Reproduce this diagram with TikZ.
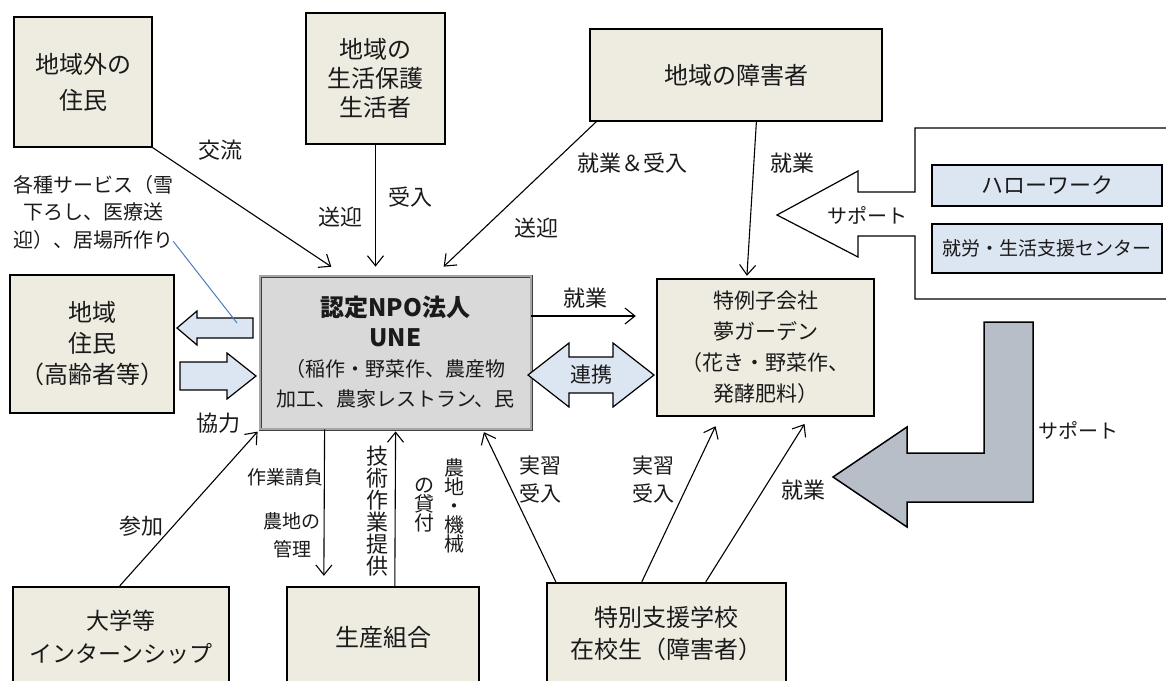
\documentclass[tikz,border=0pt]{standalone}
\usepackage{fontspec}
\setmainfont{Noto Sans CJK JP}
\usetikzlibrary{arrows.meta,calc}
\definecolor{beige}{HTML}{EEECE1}
\definecolor{unegray}{HTML}{D9D9D9}
\definecolor{lblue}{HTML}{DCE6F2}
\definecolor{sgray}{HTML}{B8BEC8}
\definecolor{bline}{HTML}{4A7EBB}
\definecolor{ink}{HTML}{1A1A1A}
\newcommand\myfs[2]{\fontsize{#1}{#2}\selectfont}
\begin{document}
\begin{tikzpicture}[x=1pt,y=-1pt,
  ebox/.style={draw=black, fill=beige, line width=1.2pt, inner sep=0pt, align=center, text=ink},
  tbox/.style={ebox, line width=2.4pt},
  bbox/.style={draw=black, fill=lblue, line width=2.4pt, inner sep=0pt, align=center, text=ink},
  lbl/.style={inner sep=0pt, align=center, text=ink, font=\myfs{22}{28}},
  slbl/.style={lbl, font=\myfs{19}{28}},
  vlbl/.style={inner sep=0pt, align=center, text=ink},
  arr/.style={draw=black, line width=1.1pt, -{Straight Barb[length=10pt,width=16pt,line width=1.1pt]}},
  blockarr/.style={draw=black, fill=lblue, line width=1.2pt, line join=miter},
]
\useasboundingbox (0,0) rectangle (1166,680);
\fill[white] (0,0) rectangle (1166,680);
\clip (0,0) rectangle (1166,680);

% support arrow (white) behind the agency boxes
\draw[line width=1.2pt, fill=white, line join=miter]
  (777,215) -- (858,171) -- (858,192) -- (915,192) -- (915,128) -- (1180,128)
  -- (1180,299) -- (915,299) -- (915,236) -- (858,236) -- (858,257) -- cycle;
\node[lbl, font=\myfs{20}{24}] (sup1) at (867,215) {サポート};

% grey L-shaped support arrow
\draw[line width=1.5pt, fill=sgray, line join=miter]
  (984,322) -- (1033,322) -- (1033,502) -- (907,502) -- (907,527) -- (833,477)
  -- (907,427) -- (907,453) -- (984,453) -- cycle;
\node[lbl, font=\myfs{20}{24}] (sup2) at (1078,430) {サポート};

% boxes
\node[ebox, minimum width=138pt, minimum height=130pt, font=\myfs{24}{36}] (gaiju) at (83,82) {地域外の\\住民};
\node[ebox, minimum width=139pt, minimum height=131pt, font=\myfs{24}{29}] (seikatsu) at (375.5,78.5) {地域の\\生活保護\\生活者};
\node[ebox, minimum width=292pt, minimum height=92pt, font=\myfs{24}{30}] (shogai) at (736,75) {地域の障害者};
\node[ebox, line width=1.5pt, minimum width=164pt, minimum height=138pt, font=\myfs{24}{31}] (chiiki) at (92,344) {地域\\住民\\（高齢者等）};
\node[draw=black!75, double=black!35, double distance=1.4pt, line width=0.8pt, fill=unegray,
      inner sep=0pt, align=center, text=ink, minimum width=271pt, minimum height=153pt,
      font=\myfs{20}{30}] (une) at (395.5,352.5)
  {{\myfs{24}{30}\bfseries 認定NPO法人}\\{\myfs{24}{30}\bfseries UNE}\\（稲作・野菜作、農産物\\加工、農家レストラン、民};
\node[tbox, minimum width=217pt, minimum height=137pt, font=\myfs{21}{31}] (tokurei) at (765.5,347.5) {特例子会社\\夢ガーデン\\（花き・野菜作、\\発酵肥料）};
\node[bbox, minimum width=230pt, minimum height=41pt, font=\myfs{22}{26}] (hw) at (1047,185.5) {ハローワーク};
\node[bbox, minimum width=230pt, minimum height=49pt, font=\myfs{19}{24}] (shuro) at (1047,248.5) {就労・生活支援センター};
\node[tbox, minimum width=216pt, minimum height=100pt, font=\myfs{23}{33}] (daigaku) at (121,637) {大学等\\インターンシップ};
\node[tbox, minimum width=192pt, minimum height=100pt, font=\myfs{24}{33}] (seisan) at (383,637) {生産組合};
\node[tbox, minimum width=239pt, minimum height=102pt, font=\myfs{24}{32}] (tokubetsu) at (666.5,634) {特別支援学校\\在校生（障害者）};

% block arrows between 地域住民 and UNE
\draw[blockarr] (253,318) -- (197,318) -- (197,311) -- (177,328) -- (197,345) -- (197,338) -- (253,338) -- cycle;
\draw[blockarr] (180,362) -- (227,362) -- (227,353) -- (256,376) -- (227,399) -- (227,390) -- (180,390) -- cycle;
\coordinate (blueend) at (237,323);

% 連携 double arrow
\draw[blockarr] (528,375) -- (569,343) -- (569,357) -- (613,357) -- (613,343) -- (654,375)
  -- (613,407) -- (613,393) -- (569,393) -- (569,407) -- cycle;
\node[lbl, font=\myfs{21}{24}] (renkei) at (591,375) {連携};

% services text + blue leader
\node[lbl, font=\myfs{20}{27.5}] (kakushu) at (93,212) {各種サービス（雪\\下ろし、医療送\\迎）、居場所作り};
\draw[bline, line width=1pt] ([yshift=8pt]kakushu.south east) -- (blueend);

% connectors from the top
\draw[arr, shorten >=16pt] (gaiju.south east) -- ([xshift=85pt]une.north west);
\draw[arr, shorten >=9pt] (seikatsu.south) -- (seikatsu.south |- une.north);
\draw[arr, shorten >=13pt] ([xshift=7pt]shogai.south west) -- ([xshift=174.6pt]une.north west);
\draw[arr, shorten >=2pt] ([xshift=167pt]shogai.south west) -- ([xshift=91pt]tokurei.north west);
\draw[arr, shorten >=20pt] ([yshift=36.5pt]une.east) -- ([yshift=36.5pt]une.east -| tokurei.west);

% connectors below
\draw[arr, shorten >=10pt] ([xshift=65pt]une.south west) -- ([xshift=38pt]seisan.north west);
\draw[arr, shorten >=2pt] ([xshift=109pt]seisan.north west) -- ([xshift=136pt]une.south west);
\draw[arr, shorten >=3pt] ([xshift=108pt]daigaku.north west) -- (une.south west);
\draw[arr, shorten >=3pt] ([xshift=10pt]tokubetsu.north west) -- ([xshift=223pt]une.south west);
\draw[arr, shorten >=10pt] ([xshift=96pt]tokubetsu.north west) -- ([xshift=64pt]tokurei.south west);
\draw[arr, shorten >=8pt] ([xshift=160pt]tokubetsu.north west) -- ([xshift=153pt]tokurei.south west);

% labels
\node[lbl] (l1) at (220,150) {交流};
\node[lbl] (l2) at (410,197) {受入};
\node[lbl] (l3) at (340,217) {送迎};
\node[lbl] (l4) at (632,163) {就業＆受入};
\node[lbl] (l5) at (536,228) {送迎};
\node[lbl] (l6) at (792,163) {就業};
\node[lbl] (l7) at (585,298) {就業};
\node[lbl] (l8) at (218,423) {協力};
\node[lbl] (l9) at (141,526) {参加};
\node[slbl] (l10) at (285,477) {作業請負};
\node[slbl] (l11) at (292,535) {農地の\\管理};
\node[vlbl, font=\myfs{22}{22}] (l12) at (377,511) {技\\術\\作\\業\\提\\供};
\node[vlbl, font=\myfs{20}{19}] (l13) at (424,505) {の\\貸\\付};
\node[vlbl, font=\myfs{20}{19}] (l14) at (454,506) {農\\地\\・\\機\\械};
\node[lbl, font=\myfs{21}{28}] (l15) at (540,479) {実習\\受入};
\node[lbl, font=\myfs{21}{28}] (l16) at (653,479) {実習\\受入};
\node[lbl] (l17) at (803,490) {就業};
\end{tikzpicture}
\end{document}
